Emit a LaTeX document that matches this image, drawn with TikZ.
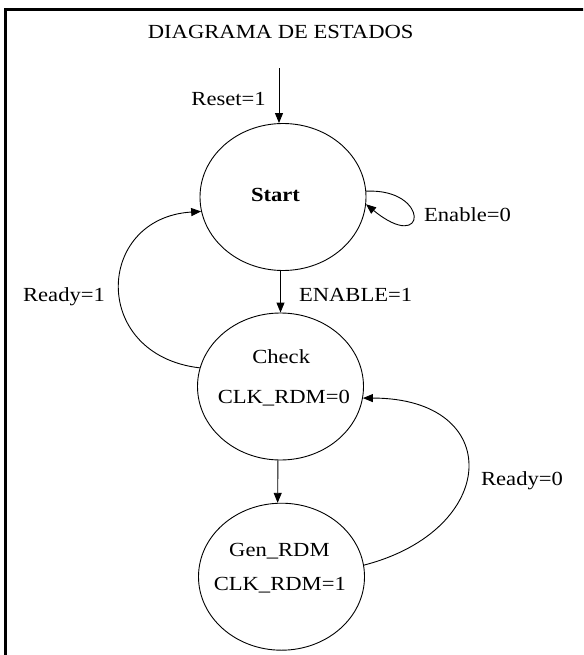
\documentclass[tikz,border=0pt]{standalone}
\usepackage{fontspec}
\setmainfont{Liberation Serif}[FakeStretch=1.13]
\usetikzlibrary{shapes.geometric,arrows.meta}

\tikzset{
  state/.style={draw, ellipse, line width=0.9pt, minimum width=166pt, minimum height=147pt, inner sep=0pt},
  lbl/.style={anchor=base, inner sep=0pt, font=\fontsize{20}{24}\selectfont},
  arr/.style={line width=0.9pt, -{Triangle[length=10pt,width=8pt]}},
  frame/.style={line width=3pt}
}

\begin{document}
\begin{tikzpicture}[x=1pt, y=-1pt]
  \useasboundingbox (0,0) rectangle (583,655);
  \clip (0,0) rectangle (583,655);

  % frame edges (left and top)
  \draw[frame] (5.5,700) -- (5.5,9.5) -- (600,9.5);

  % title
  \node[lbl] (title) at (280.7,38.3) {DIAGRAMA DE ESTADOS};

  % states
  \node[state] (start) at (283,197) {};
  \node[state] (check) at (280.5,386.5) {};
  \node[state] (gen)   at (281.5,576.7) {};

  % state texts
  \node[lbl, font=\fontsize{20}{24}\selectfont\bfseries] (tstart) at (275.5,201.7) {Start};
  \node[lbl] (tcheck) at (281.2,363.3) {Check};
  \node[lbl] (tclk0)  at (283.8,403.3) {CLK\_RDM=0};
  \node[lbl] (tgen)   at (279.4,556.7) {Gen\_RDM};
  \node[lbl] (tclk1)  at (279.8,590) {CLK\_RDM=1};

  % transition labels
  \node[lbl] (lreset)  at (228.6,106)   {Reset=1};
  \node[lbl] (lenab0)  at (467.5,221.7) {Enable=0};
  \node[lbl] (lready1) at (64,301.7)    {Ready=1};
  \node[lbl] (lenab1)  at (355.6,301.7) {ENABLE=1};
  \node[lbl] (lready0) at (522,485)     {Ready=0};

  % reset entry
  \coordinate (rtop) at (279,68.3);
  \draw[arr] (rtop) -- (rtop |- start.north);

  % Start -> Check
  \draw[arr] (check.north |- start.south) -- (check.north);

  % Check -> Gen_RDM
  \draw[arr] (check.-92.7) -- (gen.93.5);

  % Start self loop (Enable=0)
  \draw[arr] (start.4) .. controls (430,188) and (428,255) .. (start.-5);

  % Check -> Start (Ready=1)
  \draw[arr] (check.167) .. controls (90,355) and (95,218) .. (start.190.5);

  % Gen_RDM -> Check (Ready=0)
  \draw[arr] (gen.8) .. controls (500,530) and (505,398) .. (check.-8);
\end{tikzpicture}
\end{document}
